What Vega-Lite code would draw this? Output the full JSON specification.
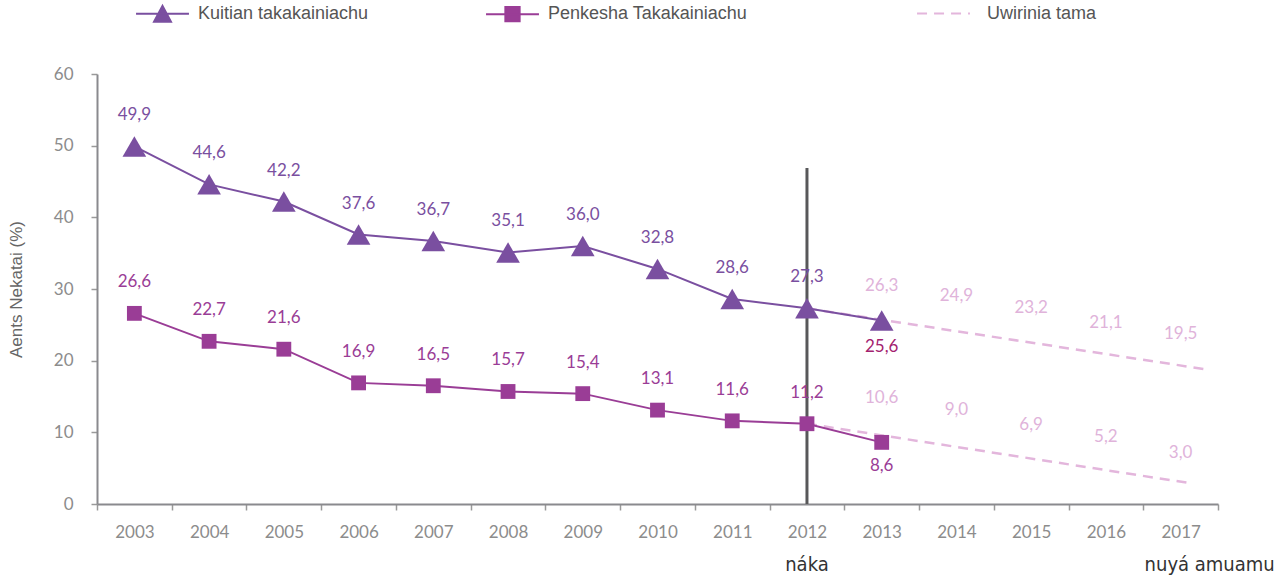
{
  "$schema": "https://vega.github.io/schema/vega-lite/v6.json",
  "width": 1121,
  "height": 430,
  "autosize": "none",
  "padding": {"left": 97, "top": 74, "right": 59, "bottom": 71},
  "background": "white",
  "config": {
    "view": {"stroke": null},
    "font": "Lato",
    "locale": {"number": {"decimal": ",", "thousands": ".", "grouping": [3], "currency": ["", ""]}}
  },
  "datasets": {
    "actual": [
      {"year": 2003, "series": "Kuitian takakainiachu", "value": 49.9},
      {"year": 2004, "series": "Kuitian takakainiachu", "value": 44.6},
      {"year": 2005, "series": "Kuitian takakainiachu", "value": 42.2},
      {"year": 2006, "series": "Kuitian takakainiachu", "value": 37.6},
      {"year": 2007, "series": "Kuitian takakainiachu", "value": 36.7},
      {"year": 2008, "series": "Kuitian takakainiachu", "value": 35.1},
      {"year": 2009, "series": "Kuitian takakainiachu", "value": 36.0},
      {"year": 2010, "series": "Kuitian takakainiachu", "value": 32.8},
      {"year": 2011, "series": "Kuitian takakainiachu", "value": 28.6},
      {"year": 2012, "series": "Kuitian takakainiachu", "value": 27.3},
      {"year": 2013, "series": "Kuitian takakainiachu", "value": 25.6},
      {"year": 2003, "series": "Penkesha Takakainiachu", "value": 26.6},
      {"year": 2004, "series": "Penkesha Takakainiachu", "value": 22.7},
      {"year": 2005, "series": "Penkesha Takakainiachu", "value": 21.6},
      {"year": 2006, "series": "Penkesha Takakainiachu", "value": 16.9},
      {"year": 2007, "series": "Penkesha Takakainiachu", "value": 16.5},
      {"year": 2008, "series": "Penkesha Takakainiachu", "value": 15.7},
      {"year": 2009, "series": "Penkesha Takakainiachu", "value": 15.4},
      {"year": 2010, "series": "Penkesha Takakainiachu", "value": 13.1},
      {"year": 2011, "series": "Penkesha Takakainiachu", "value": 11.6},
      {"year": 2012, "series": "Penkesha Takakainiachu", "value": 11.2},
      {"year": 2013, "series": "Penkesha Takakainiachu", "value": 8.6}
    ],
    "trend": [
      {"year": 2012, "line": "upper", "series": "Uwirinia tama", "value": 27.3},
      {"year": 2017.33, "line": "upper", "series": "Uwirinia tama", "value": 18.8},
      {"year": 2012, "line": "lower", "series": "Uwirinia tama", "value": 11.2},
      {"year": 2017.13, "line": "lower", "series": "Uwirinia tama", "value": 2.9}
    ],
    "proj": [
      {"year": 2013, "value": 26.3}, {"year": 2014, "value": 24.9}, {"year": 2015, "value": 23.2},
      {"year": 2016, "value": 21.1}, {"year": 2017, "value": 19.5},
      {"year": 2013, "value": 10.6}, {"year": 2014, "value": 9.0}, {"year": 2015, "value": 6.9},
      {"year": 2016, "value": 5.2}, {"year": 2017, "value": 3.0}
    ],
    "rule": [{"year": 2012, "from": 0, "to": 46.9}],
    "notes": [
      {"year": 2012, "value": -9.3, "text": "náka"},
      {"year": 2017, "value": -9.3, "text": "nuyá amuamu"}
    ]
  },
  "layer": [
    {
      "data": {"name": "trend"},
      "mark": {"type": "line", "strokeWidth": 2.5, "color": "#e3b6dc"},
      "encoding": {
        "x": {
          "field": "year", "type": "quantitative",
          "scale": {"domain": [2002.5, 2017.5], "nice": false, "zero": false},
          "axis": {
            "values": [2002.5, 2003.5, 2004.5, 2005.5, 2006.5, 2007.5, 2008.5, 2009.5, 2010.5, 2011.5, 2012.5, 2013.5, 2014.5, 2015.5, 2016.5, 2017.5],
            "labelExpr": "datum.value < 2017 ? '' + (datum.value + 0.5) : ''",
            "labelOffset": 37.4, "labelFlush": false, "labelOverlap": false,
            "title": null, "grid": false,
            "tickSize": 6, "tickColor": "#9a9a9a", "tickWidth": 1.5,
            "domainColor": "#8a8a8e", "domainWidth": 2,
            "labelColor": "#8c8c8c", "labelFontSize": 17, "labelFont": "Lato", "labelPadding": 14
          }
        },
        "y": {
          "field": "value", "type": "quantitative",
          "scale": {"domain": [0, 60], "nice": false},
          "axis": {
            "values": [0, 10, 20, 30, 40, 50, 60],
            "title": "Aents Nekatai (%)", "grid": false,
            "tickSize": 6, "tickColor": "#9a9a9a", "tickWidth": 1.5,
            "domainColor": "#8a8a8e", "domainWidth": 2,
            "labelColor": "#8c8c8c", "labelFontSize": 17, "labelFont": "Lato", "labelPadding": 18,
            "titleColor": "#666666", "titleFontSize": 17, "titleFont": "Liberation Sans", "titleFontWeight": "normal", "titlePadding": 28
          }
        },
        "detail": {"field": "line"},
        "strokeDash": {
          "field": "series", "type": "nominal",
          "scale": {"domain": ["Uwirinia tama"], "range": [[10, 7]]},
          "legend": {
            "orient": "none", "legendX": 819, "legendY": -88, "direction": "horizontal",
            "title": null, "padding": 0,
            "symbolSize": 2800, "symbolStrokeWidth": 2, "symbolType": "M-1,0H1",
            "symbolStrokeColor": "#e3b6dc", "symbolDash": [7, 5],
            "labelFontSize": 18, "labelColor": "#555555", "labelFont": "Liberation Sans", "labelLimit": 400,
            "labelOffset": 16
          }
        }
      }
    },
    {
      "data": {"name": "actual"},
      "mark": {"type": "line", "strokeWidth": 2},
      "encoding": {
        "x": {"field": "year", "type": "quantitative"},
        "y": {"field": "value", "type": "quantitative"},
        "color": {
          "field": "series", "type": "nominal",
          "scale": {
            "domain": ["Kuitian takakainiachu", "Penkesha Takakainiachu"],
            "range": ["#7a4fa0", "#9a3d96"]
          },
          "legend": {
            "orient": "none", "legendX": 38, "legendY": -88, "direction": "horizontal",
            "title": null, "padding": 0,
            "symbolSize": 2800, "symbolStrokeWidth": 2,
            "labelFontSize": 18, "labelColor": "#555555", "labelFont": "Liberation Sans", "labelLimit": 400,
            "labelOffset": 8, "columnPadding": 113,
            "encode": {
              "symbols": {
                "update": {
                  "shape": {"signal": "datum.value === 'Kuitian takakainiachu' ? 'M-1,0H1M-0.32,0.3L0,-0.3L0.32,0.3Z' : 'M-1,0H1M-0.27,-0.27H0.27V0.27H-0.27Z'"},
                  "fill": {"signal": "scale('color', datum.value)"},
                  "stroke": {"signal": "scale('color', datum.value)"},
                  "opacity": {"value": 1},
                  "fillOpacity": {"value": 1},
                  "strokeOpacity": {"value": 1}
                }
              }
            }
          }
        }
      }
    },
    {
      "data": {"name": "rule"},
      "mark": {"type": "rule", "color": "#58585a", "strokeWidth": 3},
      "encoding": {
        "x": {"field": "year", "type": "quantitative"},
        "y": {"field": "from", "type": "quantitative"},
        "y2": {"field": "to"}
      }
    },
    {
      "data": {"name": "actual"},
      "transform": [{"filter": "datum.series === 'Kuitian takakainiachu'"}],
      "mark": {"type": "point", "shape": "triangle-up", "size": 560, "filled": true, "opacity": 1},
      "encoding": {
        "x": {"field": "year", "type": "quantitative"},
        "y": {"field": "value", "type": "quantitative"},
        "color": {"field": "series", "type": "nominal"}
      }
    },
    {
      "data": {"name": "actual"},
      "transform": [{"filter": "datum.series === 'Penkesha Takakainiachu'"}],
      "mark": {"type": "point", "shape": "square", "size": 220, "filled": true, "opacity": 1},
      "encoding": {
        "x": {"field": "year", "type": "quantitative"},
        "y": {"field": "value", "type": "quantitative"},
        "color": {"field": "series", "type": "nominal"}
      }
    },
    {
      "data": {"name": "actual"},
      "transform": [{"filter": "datum.series === 'Kuitian takakainiachu' && datum.year <= 2012"}],
      "mark": {"type": "text", "dy": -31, "fontSize": 17, "font": "Lato", "color": "#7a4fa0"},
      "encoding": {
        "x": {"field": "year", "type": "quantitative"},
        "y": {"field": "value", "type": "quantitative"},
        "text": {"field": "value", "type": "quantitative", "format": ".1f"}
      }
    },
    {
      "data": {"name": "actual"},
      "transform": [{"filter": "datum.series === 'Penkesha Takakainiachu' && datum.year <= 2012"}],
      "mark": {"type": "text", "dy": -31, "fontSize": 17, "font": "Lato", "color": "#9a3d96"},
      "encoding": {
        "x": {"field": "year", "type": "quantitative"},
        "y": {"field": "value", "type": "quantitative"},
        "text": {"field": "value", "type": "quantitative", "format": ".1f"}
      }
    },
    {
      "data": {"name": "actual"},
      "transform": [{"filter": "datum.series === 'Kuitian takakainiachu' && datum.year == 2013"}],
      "mark": {"type": "text", "dy": 26, "fontSize": 17, "font": "Lato", "color": "#a3226f"},
      "encoding": {
        "x": {"field": "year", "type": "quantitative"},
        "y": {"field": "value", "type": "quantitative"},
        "text": {"field": "value", "type": "quantitative", "format": ".1f"}
      }
    },
    {
      "data": {"name": "actual"},
      "transform": [{"filter": "datum.series === 'Penkesha Takakainiachu' && datum.year == 2013"}],
      "mark": {"type": "text", "dy": 24, "fontSize": 17, "font": "Lato", "color": "#9a3d96"},
      "encoding": {
        "x": {"field": "year", "type": "quantitative"},
        "y": {"field": "value", "type": "quantitative"},
        "text": {"field": "value", "type": "quantitative", "format": ".1f"}
      }
    },
    {
      "data": {"name": "proj"},
      "mark": {"type": "text", "dy": -30, "fontSize": 17, "font": "Lato", "color": "#e0b3da"},
      "encoding": {
        "x": {"field": "year", "type": "quantitative"},
        "y": {"field": "value", "type": "quantitative"},
        "text": {"field": "value", "type": "quantitative", "format": ".1f"}
      }
    },
    {
      "data": {"name": "notes"},
      "transform": [{"filter": "datum.year == 2012"}],
      "mark": {"type": "text", "fontSize": 20, "font": "DejaVu Sans Condensed, Roboto Condensed, Liberation Sans", "color": "#333333", "baseline": "alphabetic"},
      "encoding": {
        "x": {"field": "year", "type": "quantitative"},
        "y": {"field": "value", "type": "quantitative"},
        "text": {"field": "text", "type": "nominal"}
      }
    },
    {
      "data": {"name": "notes"},
      "transform": [{"filter": "datum.year == 2017"}],
      "mark": {"type": "text", "fontSize": 20, "font": "DejaVu Sans Condensed, Roboto Condensed, Liberation Sans", "color": "#333333", "baseline": "alphabetic", "dx": 29},
      "encoding": {
        "x": {"field": "year", "type": "quantitative"},
        "y": {"field": "value", "type": "quantitative"},
        "text": {"field": "text", "type": "nominal"}
      }
    }
  ]
}
